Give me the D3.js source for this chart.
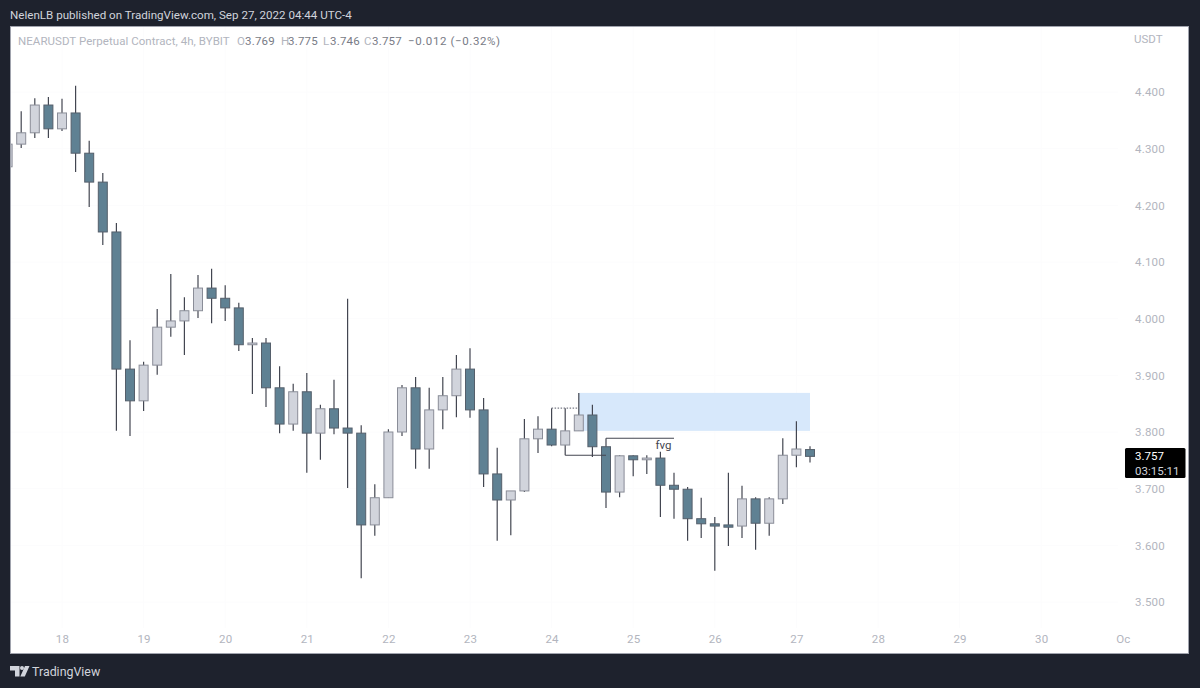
<!DOCTYPE html>
<html>
<head>
<meta charset="utf-8">
<script src="https://cdn.jsdelivr.net/npm/d3@7"></script>
<style>
  html, body { margin: 0; padding: 0; background: #1e222d; overflow: hidden; }
  text { font-family: Roboto, sans-serif; }
</style>
</head>
<body>
<div class="canvas"></div>
<script>
// 4h candles, first one starts Sep 17 08:00
const opens = [4.268, 4.308, 4.328, 4.377, 4.335, 4.363, 4.292, 4.241, 4.153, 3.911,
    3.855, 3.918, 3.985, 3.996, 4.014, 4.054, 4.036, 4.019, 3.954, 3.957,
    3.878, 3.814, 3.871, 3.798, 3.841, 3.807, 3.798, 3.636, 3.684, 3.800,
    3.878, 3.770, 3.839, 3.864, 3.911, 3.839, 3.726, 3.680, 3.696, 3.788,
    3.805, 3.777, 3.802, 3.830, 3.774, 3.694, 3.758, 3.751, 3.754, 3.706,
    3.699, 3.647, 3.638, 3.636, 3.634, 3.682, 3.639, 3.682, 3.759, 3.769];
const highs = [4.308, 4.366, 4.389, 4.391, 4.388, 4.411, 4.314, 4.257, 4.169, 3.962,
    3.924, 4.017, 4.079, 4.038, 4.077, 4.088, 4.059, 4.028, 3.966, 3.966,
    3.916, 3.885, 3.904, 3.848, 3.892, 4.035, 3.812, 3.708, 3.805, 3.883,
    3.897, 3.878, 3.897, 3.936, 3.948, 3.860, 3.772, 3.696, 3.823, 3.828,
    3.842, 3.842, 3.869, 3.848, 3.789, 3.759, 3.759, 3.759, 3.765, 3.728,
    3.703, 3.684, 3.650, 3.728, 3.705, 3.685, 3.685, 3.789, 3.819, 3.775];
const lows = [4.268, 4.301, 4.319, 4.319, 4.331, 4.259, 4.197, 4.130, 3.802, 3.793,
    3.837, 3.901, 3.968, 3.936, 4.001, 3.992, 3.996, 3.943, 3.867, 3.844,
    3.798, 3.802, 3.728, 3.751, 3.796, 3.701, 3.542, 3.617, 3.684, 3.793,
    3.735, 3.735, 3.805, 3.826, 3.825, 3.703, 3.608, 3.618, 3.694, 3.763,
    3.775, 3.759, 3.802, 3.756, 3.666, 3.685, 3.722, 3.726, 3.650, 3.647,
    3.608, 3.613, 3.555, 3.599, 3.613, 3.592, 3.617, 3.673, 3.738, 3.746];
const closes = [4.308, 4.328, 4.377, 4.335, 4.363, 4.292, 4.241, 4.153, 3.911, 3.855,
    3.918, 3.985, 3.996, 4.014, 4.054, 4.036, 4.019, 3.954, 3.957, 3.878,
    3.814, 3.871, 3.798, 3.841, 3.807, 3.798, 3.636, 3.684, 3.800, 3.878,
    3.770, 3.839, 3.864, 3.911, 3.839, 3.726, 3.680, 3.696, 3.788, 3.805,
    3.777, 3.802, 3.830, 3.774, 3.694, 3.758, 3.751, 3.754, 3.706, 3.699,
    3.647, 3.638, 3.634, 3.632, 3.682, 3.639, 3.682, 3.759, 3.770, 3.757];

const priceTicks = [4.4, 4.3, 4.2, 4.1, 4.0, 3.9, 3.8, 3.7, 3.6, 3.5];
const dateTicks = [18, 19, 20, 21, 22, 23, 24, 25, 26, 27, 28, 29, 30];
const dateLabels = ['18', '19', '20', '21', '22', '23', '24', '25', '26', '27', '28', '29', '30', 'Oc'];

const lastPrice = 3.757;
const countdown = '03:15:11';
const zonePrices = [3.869, 3.802];

const upColor = '#d1d4dc';
const downColor = '#5f8193';
const fontStack = 'Roboto, sans-serif';

const svg = d3.select('.canvas')
    .append('svg')
    .attr('width', 1200)
    .attr('height', 688)
    .style('display', 'block');

// white chart panel
const panel = { left: 10, right: 1189, top: 26, bottom: 654 };

svg.append('rect')
    .attr('width', 1200)
    .attr('height', 688)
    .attr('fill', '#1e222d');

svg.append('rect')
    .attr('x', panel.left + 0.5)
    .attr('y', panel.top + 0.5)
    .attr('width', panel.right - panel.left - 1)
    .attr('height', panel.bottom - panel.top - 1)
    .attr('fill', '#ffffff')
    .attr('stroke', '#a0a3ad');

svg.append('clipPath')
    .attr('id', 'plot')
    .append('rect')
    .attr('x', panel.left + 1)
    .attr('y', panel.top + 1)
    .attr('width', panel.right - panel.left - 2)
    .attr('height', panel.bottom - panel.top - 2);

// scales
const candleTime = i => new Date(Date.UTC(2022, 8, 17, 8) + i * 4 * 3600 * 1000);
const dayTime = d => new Date(Date.UTC(2022, 8, d));

const x = d3.scaleUtc()
    .domain([candleTime(0), candleTime(59)])
    .range([7.6, 810]);

const y = d3.scaleLinear()
    .domain([4.4, 3.5])
    .range([92, 602]);

const axisColor = '#b2b5be';

// grid, barely visible on the original
const grid = svg.append('g').attr('stroke', '#fcfcfd');
grid.selectAll('.gx').data(dateTicks).enter().append('line')
    .attr('x1', d => x(dayTime(d))).attr('x2', d => x(dayTime(d)))
    .attr('y1', panel.top + 1).attr('y2', 628);
grid.selectAll('.gy').data(priceTicks).enter().append('line')
    .attr('x1', panel.left + 1).attr('x2', 1118)
    .attr('y1', d => y(d)).attr('y2', d => y(d));

// axes
const xAxis = d3.axisBottom(x)
    .tickValues(dateTicks.map(dayTime).concat([new Date(Date.UTC(2022, 9, 1))]))
    .tickSize(0)
    .tickFormat((d, i) => dateLabels[i]);

const yAxis = d3.axisRight(y)
    .tickValues(priceTicks)
    .tickSize(0)
    .tickFormat(d3.format('.3f'));

const xAxisGroup = svg.append('g')
    .attr('transform', 'translate(0, 635)')
    .call(xAxis);
const yAxisGroup = svg.append('g')
    .attr('transform', 'translate(1132, 0)')
    .call(yAxis);

xAxisGroup.select('.domain').remove();
yAxisGroup.select('.domain').remove();
xAxisGroup.selectAll('text')
    .attr('y', 0)
    .attr('dy', '0.71em')
    .attr('font-size', 11.5)
    .attr('fill', axisColor)
    .style('font-family', fontStack)
    .style('letter-spacing', '0.2px');
yAxisGroup.selectAll('text')
    .attr('x', 3)
    .attr('font-size', 11.5)
    .attr('fill', axisColor)
    .style('font-family', fontStack)
    .style('letter-spacing', '0.2px');

svg.append('text')
    .attr('x', 1134)
    .attr('y', 43)
    .attr('font-size', 11.5)
    .attr('fill', axisColor)
    .text('USDT');

const plot = svg.append('g').attr('clip-path', 'url(#plot)');

// supply zone sits under the candles
plot.append('rect')
    .attr('x', x(candleTime(42)))
    .attr('y', y(zonePrices[0]))
    .attr('width', x(candleTime(59)) - x(candleTime(42)))
    .attr('height', y(zonePrices[1]) - y(zonePrices[0]))
    .attr('fill', '#d7e8fb');

// wicks
plot.selectAll('.wick')
    .data(opens)
    .enter()
    .append('line')
    .attr('x1', (d, i) => x(candleTime(i)))
    .attr('x2', (d, i) => x(candleTime(i)))
    .attr('y1', (d, i) => y(highs[i]))
    .attr('y2', (d, i) => y(lows[i]))
    .attr('stroke', '#434651')
    .attr('stroke-width', 1.2);

// bodies
plot.selectAll('.body')
    .data(opens)
    .enter()
    .append('rect')
    .attr('x', (d, i) => x(candleTime(i)) - 4.5)
    .attr('y', (d, i) => y(Math.max(opens[i], closes[i])))
    .attr('width', 9)
    .attr('height', (d, i) => Math.max(1.5, Math.abs(y(opens[i]) - y(closes[i]))))
    .attr('fill', (d, i) => closes[i] >= opens[i] ? upColor : downColor)
    .attr('stroke', (d, i) => closes[i] >= opens[i] ? '#8a8d98' : '#555f6b')
    .attr('stroke-width', 1);

// hand drawn lines from the published idea
const drawings = [
    { from: 40, to: 42, price: 3.842, dash: '1.5,1.5', color: '#787b86' },
    { from: 41, to: 44, price: 3.759, dash: null, color: '#434651' },
    { from: 44, to: 49, price: 3.789, dash: null, color: '#434651' }
];

plot.selectAll('.drawing')
    .data(drawings)
    .enter()
    .append('line')
    .attr('x1', d => x(candleTime(d.from)))
    .attr('x2', d => x(candleTime(d.to)))
    .attr('y1', d => y(d.price))
    .attr('y2', d => y(d.price))
    .attr('stroke', d => d.color)
    .attr('stroke-width', 1.2)
    .attr('stroke-dasharray', d => d.dash);

plot.append('text')
    .attr('x', x(candleTime(48)) + 3)
    .attr('y', y(3.7705))
    .attr('text-anchor', 'middle')
    .attr('font-size', 11.5)
    .attr('fill', '#434651')
    .text('fvg');

// last price tag
svg.append('rect')
    .attr('x', 1125)
    .attr('y', 448)
    .attr('width', 60.5)
    .attr('height', 30)
    .attr('rx', 1.5)
    .attr('fill', '#000000');
svg.append('text')
    .attr('x', 1135)
    .attr('y', y(lastPrice) + 4)
    .attr('font-size', 11.5)
    .attr('fill', '#ffffff')
    .text(d3.format('.3f')(lastPrice));
svg.append('text')
    .attr('x', 1135)
    .attr('y', 474.5)
    .attr('font-size', 11.5)
    .attr('fill', '#d1d4dc')
    .text(countdown);

// header + legend
svg.append('text')
    .attr('x', 10)
    .attr('y', 19)
    .attr('font-size', 11.6)
    .attr('fill', '#d1d4dc')
    .text('NelenLB published on TradingView.com, Sep 27, 2022 04:44 UTC-4');

const legendParts = [
    ['NEARUSDT Perpetual Contract, 4h, BYBIT', axisColor, 18, 0.05],
    ['O', axisColor, 237, 0],
    ['3.769', '#787b86', 245, 0.2],
    ['H', axisColor, 281, 0],
    ['3.775', '#787b86', 288, 0.2],
    ['L', axisColor, 323, 0],
    ['3.746', '#787b86', 330, 0.2],
    ['C', axisColor, 364, 0],
    ['3.757', '#787b86', 372, 0.2],
    ['\u22120.012 (\u22120.32%)', '#787b86', 408, 0.6]
];

svg.append('g')
    .selectAll('text')
    .data(legendParts)
    .enter()
    .append('text')
    .attr('x', d => d[2])
    .attr('y', 45)
    .attr('font-size', 11.5)
    .attr('fill', d => d[1])
    .style('letter-spacing', d => d[3] + 'px')
    .text(d => d[0]);

// TradingView logo
svg.append('path')
    .attr('d', 'M10 666h9.5v10.5h-4.5v-6h-5z M25 666h4.5l-4.7 10.5h-4.5z')
    .attr('fill', '#d1d4dc');
svg.append('circle')
    .attr('cx', 22)
    .attr('cy', 668)
    .attr('r', 2)
    .attr('fill', '#d1d4dc');
svg.append('text')
    .attr('x', 32)
    .attr('y', 676)
    .attr('font-size', 12.4)
    .attr('fill', '#d1d4dc')
    .text('TradingView');
</script>
</body>
</html>
